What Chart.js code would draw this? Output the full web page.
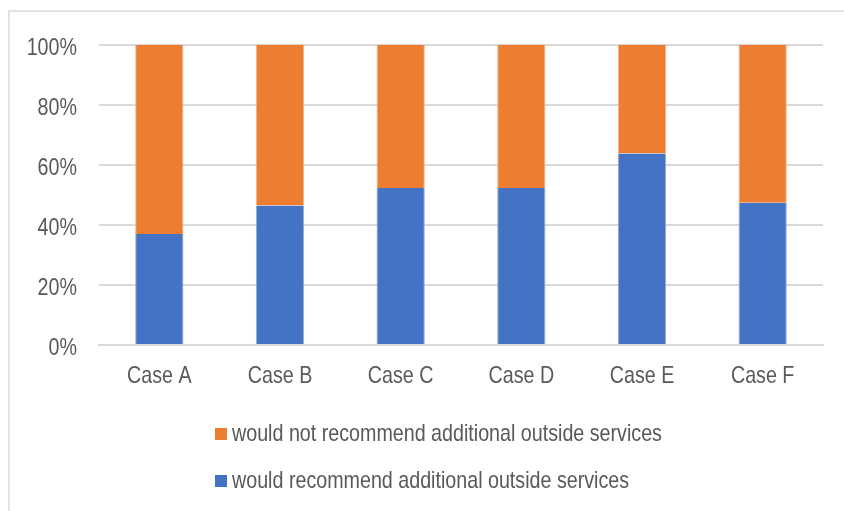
<!DOCTYPE html>
<html>
<head>
<meta charset="utf-8">
<script src="https://cdn.jsdelivr.net/npm/chart.js@4/dist/chart.umd.min.js"></script>
<style>
  body { margin: 0; background: #fff; }
  #frame { position: absolute; left: 8px; top: 10px; width: 850px; height: 520px;
           border-left: 2px solid #e4e4e4; border-top: 2px solid #e4e4e4; }
  #wrap { position: absolute; left: 0; top: 0; width: 844px; height: 511px; }
</style>
</head>
<body>
<div id="frame"></div>
<div id="wrap"><canvas id="recChart" width="844" height="511"></canvas></div>
<script>
// Data
const cases = ['Case A', 'Case B', 'Case C', 'Case D', 'Case E', 'Case F'];
const recommend = [37, 46.5, 52.3, 52.3, 63.8, 47.4];
const notRecommend = [63, 53.5, 47.7, 47.7, 36.2, 52.6];
const yTicks = ['0%', '20%', '40%', '60%', '80%', '100%'];

const FONT = "'Liberation Sans', Arial, sans-serif";
const TEXT = '#595959';
const NARROW = 0.82; // the original uses a narrow font, squeeze the text

function narrowText(ctx, text, x, y, align) {
    ctx.save();
    ctx.translate(x, y);
    ctx.scale(NARROW, 1);
    ctx.textAlign = align;
    ctx.fillText(text, 0, 0);
    ctx.restore();
}

// tick labels (narrow) + legend drawn like Excel: left aligned, one row per series
const excelText = {
    id: 'excelText',
    afterDraw(chart) {
        const ctx = chart.ctx;
        const xs = chart.scales.x, ys = chart.scales.y;
        ctx.save();
        ctx.font = '24px ' + FONT;
        ctx.textBaseline = 'middle';
        ctx.fillStyle = TEXT;
        xs.ticks.forEach((t, i) => {
            narrowText(ctx, chart.data.labels[i], xs.getPixelForTick(i), xs.top + 31, 'center');
        });
        ys.ticks.forEach((t, i) => {
            narrowText(ctx, yTicks[i], 77, ys.getPixelForValue(t.value) + 3, 'right');
        });
        const items = [chart.data.datasets[1], chart.data.datasets[0]];
        items.forEach((ds, i) => {
            const y = 434 + i * 47;
            ctx.fillStyle = ds.backgroundColor;
            ctx.fillRect(215, y - 6, 12, 12);
            ctx.fillStyle = TEXT;
            narrowText(ctx, ds.label, 232, y, 'left');
        });
        ctx.restore();
    }
};

const ctx = document.getElementById('recChart').getContext('2d');
const recChart = new Chart(ctx, {
    type: 'bar',
    data: {
        labels: cases,
        datasets: [{
            label: 'would recommend additional outside services',
            data: recommend,
            backgroundColor: '#4472c4',
            borderColor: '#8faadc',
            borderWidth: { left: 1, right: 1, top: 0, bottom: 0 },
            categoryPercentage: 0.4,
            barPercentage: 1
        }, {
            label: 'would not recommend additional outside services',
            data: notRecommend,
            backgroundColor: '#ed7d31',
            borderColor: '#f4b183',
            borderWidth: { left: 1, right: 1, top: 0, bottom: 0 },
            categoryPercentage: 0.4,
            barPercentage: 1
        }]
    },
    options: {
        responsive: false,
        animation: false,
        layout: { padding: { top: 45, right: 21, left: 0, bottom: 0 } },
        plugins: {
            legend: { display: false },
            tooltip: { enabled: false }
        },
        scales: {
            x: {
                stacked: true,
                grid: { display: false, drawTicks: false },
                border: { color: '#d9d9d9', width: 2 },
                ticks: { color: 'rgba(0,0,0,0)', font: { family: FONT, size: 23 }, padding: 14 },
                afterFit: s => { s.height = 166; }
            },
            y: {
                stacked: true,
                min: 0,
                max: 100,
                grid: { color: '#d9d9d9', lineWidth: 2, drawTicks: false },
                border: { display: false },
                ticks: {
                    stepSize: 20,
                    color: 'rgba(0,0,0,0)',
                    font: { family: FONT, size: 23 },
                    padding: 21,
                    callback: (v, i) => yTicks[i]
                },
                afterFit: s => { s.width = 99; }
            }
        }
    },
    plugins: [excelText]
});
</script>
</body>
</html>
